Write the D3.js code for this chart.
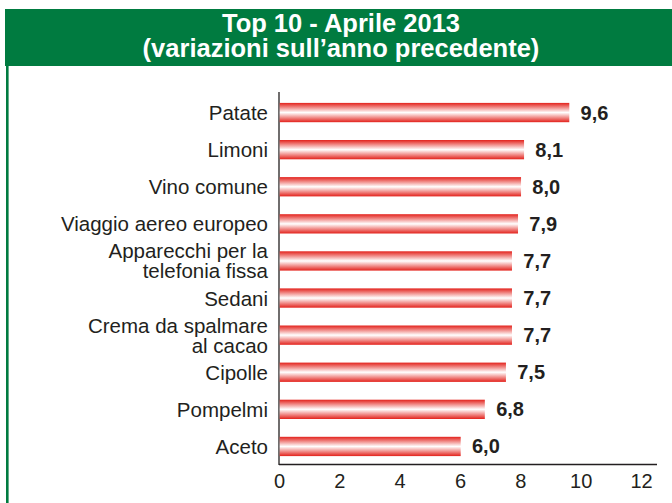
<!DOCTYPE html>
<html>
<head>
<meta charset="utf-8">
<script src="https://cdn.jsdelivr.net/npm/d3@7"></script>
<style>
  body { margin: 0; background: #fff; }
  svg { display: block; font-family: "Liberation Sans", Arial, sans-serif; }
</style>
</head>
<body>
<div id="chart"></div>
<script>
// data
var categories = ["Patate", "Limoni", "Vino comune", "Viaggio aereo europeo",
    "Apparecchi per la\ntelefonia fissa", "Sedani", "Crema da spalmare\nal cacao",
    "Cipolle", "Pompelmi", "Aceto"];
var values = [9.6, 8.1, 8.0, 7.9, 7.7, 7.7, 7.7, 7.5, 6.8, 6.0];
var tickValues = [0, 2, 4, 6, 8, 10, 12];
var titleLines = ["Top 10 - Aprile 2013", "(variazioni sull\u2019anno precedente)"];

var W = 672, H = 503;
var green = "#007b40";
var ink = "#231f20";

var svg = d3.select("#chart").append("svg")
    .attr("width", W)
    .attr("height", H);

// bar gradient: red at top and bottom, white in the middle
var grad = svg.append("defs").append("linearGradient")
    .attr("id", "barGrad")
    .attr("x1", 0).attr("y1", 0).attr("x2", 0).attr("y2", 1);
grad.append("stop").attr("offset", "0%").attr("stop-color", "#e3221c");
grad.append("stop").attr("offset", "50%").attr("stop-color", "#ffffff");
grad.append("stop").attr("offset", "100%").attr("stop-color", "#e3221c");

// header band + left rule
svg.append("rect")
    .attr("x", 5).attr("y", 9)
    .attr("width", W - 5).attr("height", 57)
    .attr("fill", green);
svg.append("rect")
    .attr("x", 6).attr("y", 60)
    .attr("width", 2.6).attr("height", H - 60)
    .attr("fill", green);

svg.append("text")
    .attr("text-anchor", "middle")
    .attr("fill", "#fff")
    .style("font-weight", "bold")
    .style("font-size", "25.5px")
    .selectAll("tspan")
    .data(titleLines)
    .enter().append("tspan")
    .attr("x", 341)
    .attr("y", function (d, i) { return 32 + i * 24.5; })
    .text(function (d) { return d; });

var x = d3.scaleLinear()
    .domain([0, 12])
    .range([279, 641]);

var y = d3.scaleBand()
    .domain(categories)
    .range([94, 465])
    .paddingInner(0.48)
    .paddingOuter(0.24);

// axes
svg.append("line")
    .attr("x1", x(0)).attr("x2", x(0))
    .attr("y1", 92).attr("y2", 465)
    .attr("stroke", ink).attr("stroke-width", 1.3);
svg.append("line")
    .attr("x1", x(0)).attr("x2", 657)
    .attr("y1", 464.5).attr("y2", 464.5)
    .attr("stroke", ink).attr("stroke-width", 1.3);

var xAxis = svg.append("g")
    .attr("transform", "translate(0,464)")
    .call(d3.axisBottom(x).tickValues(tickValues).tickSize(0).tickPadding(10));
xAxis.select(".domain").remove();
xAxis.selectAll("text")
    .attr("fill", ink)
    .style("font-size", "20px")
    .style("font-family", "Liberation Sans, Arial, sans-serif");

// bars
svg.selectAll("rect.bar")
    .data(values)
    .enter().append("rect")
    .attr("class", "bar")
    .attr("x", x(0) + 0.7)
    .attr("y", function (d, i) { return y(categories[i]); })
    .attr("width", function (d) { return x(d) - x(0); })
    .attr("height", y.bandwidth())
    .attr("fill", "url(#barGrad)");

// value labels
svg.selectAll("text.val")
    .data(values)
    .enter().append("text")
    .attr("class", "val")
    .attr("x", function (d) { return x(d) + 12; })
    .attr("y", function (d, i) { return y(categories[i]) + y.bandwidth() / 2 + 7; })
    .attr("fill", ink)
    .style("font-weight", "bold")
    .style("font-size", "20px")
    .text(function (d) { return d3.format(".1f")(d).replace(".", ","); });

// category labels
svg.selectAll("text.cat")
    .data(categories)
    .enter().append("text")
    .attr("class", "cat")
    .attr("text-anchor", "end")
    .attr("fill", ink)
    .style("font-size", "20.5px")
    .each(function (d) {
        var lines = d.split("\n");
        var cy = y(d) + y.bandwidth() / 2;
        var t = d3.select(this);
        lines.forEach(function (l, j) {
            t.append("tspan")
                .attr("x", 268)
                .attr("y", cy + 7.5 + (j - (lines.length - 1) / 2) * 20)
                .text(l);
        });
    });
</script>
</body>
</html>
